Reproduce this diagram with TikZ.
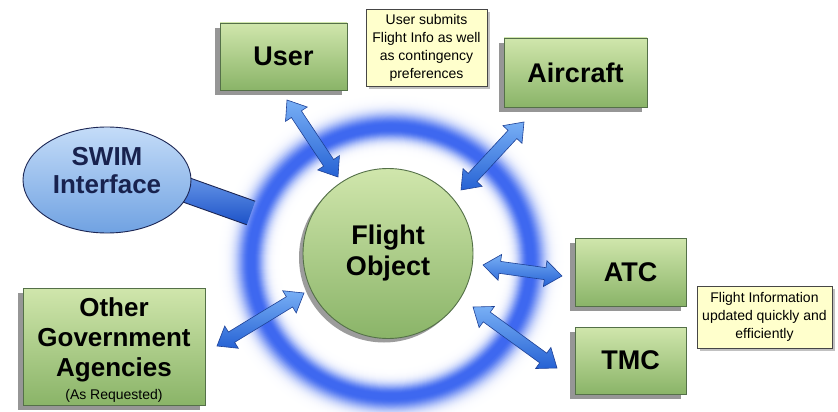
\documentclass[tikz,border=0pt]{standalone}
\usepackage{fontspec}
\setmainfont{Liberation Sans}
\usetikzlibrary{calc,shadows,shapes.geometric}

\definecolor{boxtop}{RGB}{208,230,172}
\definecolor{boxbot}{RGB}{138,180,104}
\definecolor{boxline}{RGB}{84,112,72}
\definecolor{notefill}{RGB}{255,255,204}
\definecolor{noteline}{RGB}{70,70,70}
\definecolor{ringblue}{RGB}{62,104,240}
\definecolor{arrlight}{RGB}{120,175,245}
\definecolor{arrdark}{RGB}{38,98,212}
\definecolor{arrline}{RGB}{30,65,150}
\definecolor{swimtop}{RGB}{196,220,248}
\definecolor{swimbot}{RGB}{112,162,226}
\definecolor{swimline}{RGB}{28,38,84}
\definecolor{swimtext}{RGB}{24,34,78}
\definecolor{bartop}{RGB}{105,152,232}
\definecolor{barbot}{RGB}{28,82,200}

\tikzset{
  greenbox/.style={draw=boxline, line width=0.9pt, top color=boxtop,
    bottom color=boxbot, align=center, inner sep=0pt,
    font=\bfseries\fontsize{27}{30}\selectfont,
    drop shadow={shadow xshift=-5pt, shadow yshift=-5pt, fill=black!55, opacity=0.75}},
  boxtext/.style={align=center, inner sep=0pt, font=\bfseries\fontsize{26}{30}\selectfont},
  notebox/.style={draw=noteline, line width=0.8pt, fill=notefill, align=center,
    inner sep=0pt, font=\fontsize{14}{18}\selectfont,
    drop shadow={shadow xshift=3pt, shadow yshift=-3pt, fill=black!40, opacity=0.6}},
  blockarrow/.style={draw=arrline, line width=0.6pt, top color=arrlight, bottom color=arrdark},
  pics/dblarrow/.style={code={
    \path[blockarrow] (0,0) -- (17,-13) -- (17,-6) -- (#1-17,-6) -- (#1-17,-13)
      -- (#1,0) -- (#1-17,13) -- (#1-17,6) -- (17,6) -- (17,13) -- cycle;
  }},
}

% double-headed block arrow between two named points
\newcommand\linkarrow[2]{%
  \path let \p1=(#1), \p2=(#2),
    \n1={atan2(\y2-\y1,\x2-\x1)}, \n2={veclen(\x2-\x1,\y2-\y1)} in
    pic[rotate=\n1] at (\p1) {dblarrow=\n2};}

\begin{document}
\begin{tikzpicture}[x=1pt,y=-1pt]
\path[use as bounding box, fill=white] (0,0) rectangle (838,412);

% glowing ring around the flight object: nested discs, outermost first
\coordinate (ringc) at (391,262);
\foreach \r in {182,181,...,104}{
  \pgfmathsetmacro\d{\r-140}
  \pgfmathsetmacro\p{\d<-2 ? 100*exp(-(\d+2)*(\d+2)/110)
                         : (\d>2 ? 100*exp(-(\d-2)*(\d-2)/160) : 100)}
  \fill[ringblue!\p!white] (ringc) ellipse[x radius=\r, y radius=\r*0.964];
}
\fill[white] (ringc) ellipse[x radius=103, y radius=99];

% connector bar from the SWIM interface into the ring
\coordinate (swA) at (178,187);
\coordinate (swB) at (251,213);
\path[top color=bartop, bottom color=barbot]
  ($(swA)!12.5pt!90:(swB)$) -- ($(swB)!12.5pt!-90:(swA)$)
  -- ($(swB)!12.5pt!90:(swA)$) -- ($(swA)!12.5pt!-90:(swB)$) -- cycle;
\draw[swimline, line width=0.9pt] ($(swA)!12.5pt!90:(swB)$) -- ($(swB)!12.5pt!-90:(swA)$);
\draw[swimline, line width=0.9pt] ($(swA)!12.5pt!-90:(swB)$) -- ($(swB)!12.5pt!90:(swA)$);

% central flight object
\node[circle, minimum size=170pt, draw=boxline, line width=0.9pt,
  top color=boxtop, bottom color=boxbot, inner sep=0pt, align=center,
  font=\bfseries\fontsize{27}{31}\selectfont,
  drop shadow={shadow xshift=-4pt, shadow yshift=-4pt, fill=black!55, opacity=0.7}]
  (fo) at (388,253.5) {Flight\\Object};

% SWIM interface
\node[ellipse, minimum width=168pt, minimum height=106pt, draw=swimline,
  line width=0.9pt, top color=swimtop, bottom color=swimbot] (swim) at (107,180) {};
\node[align=center, inner sep=0pt, text=swimtext,
  font=\bfseries\fontsize{26}{28}\selectfont] (swimlabel) at (107,171) {SWIM\\Interface};

% participants
\node[greenbox, minimum width=127pt, minimum height=67pt] (user) at (283.5,56.5) {User};
\node[greenbox, minimum width=143pt, minimum height=69pt] (aircraft) at (575.5,72.5) {Aircraft};
\node[greenbox, minimum width=111pt, minimum height=68pt] (atc) at (630.5,272) {ATC};
\node[greenbox, minimum width=111pt, minimum height=67pt] (tmc) at (630.5,360.5) {TMC};
\node[greenbox, minimum width=182pt, minimum height=117pt] (gov) at (114,346.5) {};
\node[boxtext] (govlabel) at (114,350.5)
  {Other\\Government\\Agencies\\[-7pt]{\normalfont\fontsize{14}{16}\selectfont (As Requested)}};

% notes
\node[notebox, minimum width=121pt, minimum height=77pt] (note1) at (426.5,47.5)
  {User submits\\Flight Info as well\\as contingency\\preferences};
\node[notebox, minimum width=135pt, minimum height=62pt] (note2) at (764.5,317)
  {Flight Information\\updated quickly and\\efficiently};

% arrow end points
\coordinate (uA) at (287,100);  \coordinate (uB) at (338,177);
\coordinate (aA) at (524,122);  \coordinate (aB) at (461,190);
\coordinate (gA) at (217,346);  \coordinate (gB) at (304,293);
\coordinate (tA) at (483,265);  \coordinate (tB) at (562,276);
\coordinate (mA) at (473,307);  \coordinate (mB) at (557,368);

\linkarrow{uA}{uB}
\linkarrow{aA}{aB}
\linkarrow{gA}{gB}
\linkarrow{tA}{tB}
\linkarrow{mA}{mB}
\end{tikzpicture}
\end{document}
